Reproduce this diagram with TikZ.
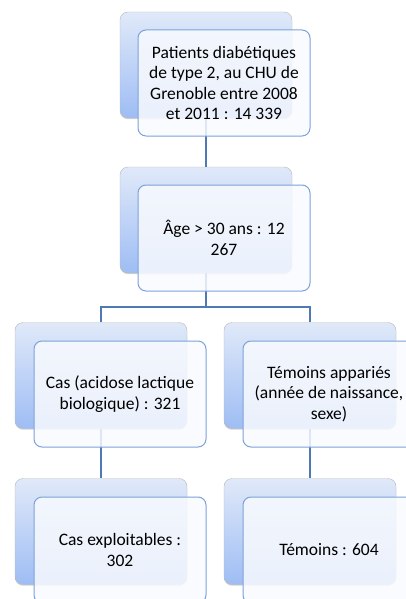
\documentclass[tikz,border=0pt]{standalone}
\usepackage{fontspec}
\setmainfont{Carlito}
\usetikzlibrary{positioning, shadows}

\definecolor{backtop}{HTML}{E0E9F9}
\definecolor{backbottom}{HTML}{9EBDF4}
\definecolor{frontline}{HTML}{7DA2D8}
\definecolor{frontfill}{HTML}{F8FAFE}
\definecolor{linkcol}{HTML}{4E79B5}

\begin{document}
\begin{tikzpicture}[x=1pt, y=-1pt,
    backbox/.style={rectangle, rounded corners=8pt, draw=gray!55, top color=backtop, bottom color=backbottom,
        minimum width=172pt, minimum height=106pt, drop shadow={shadow xshift=0pt, shadow yshift=-1.2pt, opacity=0.35}},
    frontbox/.style={rectangle, rounded corners=8pt, draw=frontline, line width=1pt, fill=frontfill, fill opacity=0.85,
        text opacity=1, minimum width=172pt, minimum height=106pt, align=center, font=\fontsize{17.5}{20.5}\selectfont},
    link/.style={draw=linkcol, line width=2pt}]
    \useasboundingbox (0,0) rectangle (406,599);

    % back boxes
    \node[backbox] (patientsB) at (206,65) {};
    \node[backbox] (ageB) at (206,220) {};
    \node[backbox] (casB) at (101,375.5) {};
    \node[backbox] (temoinsB) at (310,375.5) {};
    \node[backbox] (exploitB) at (101,531.5) {};
    \node[backbox] (retenusB) at (310,531.5) {};

    % connectors
    \coordinate (split) at (206,307);
    \draw[link] (patientsB.south) -- (ageB.north);
    \draw[link] (ageB.south) -- (split);
    \draw[link] (casB.north) |- (split) -| (temoinsB.north);
    \draw[link] (casB.south) -- (exploitB.north);
    \draw[link] (temoinsB.south) -- (retenusB.north);

    % front boxes
    \node[frontbox] (patients) at (224,83) {Patients diabétiques\\de type 2, au CHU de\\Grenoble entre 2008\\et 2011 : 14 339};
    \node[frontbox] (age) at (224,238) {Âge > 30 ans : 12\\267};
    \node[frontbox] (cas) at (120,394) {Cas (acidose lactique\\biologique) : 321};
    \node[frontbox] (temoins) at (329,394) {Témoins appariés\\(année de naissance,\\sexe)};
    \node[frontbox] (exploit) at (120,550) {Cas exploitables :\\302};
    \node[frontbox] (retenus) at (329,550) {Témoins : 604};
\end{tikzpicture}
\end{document}
